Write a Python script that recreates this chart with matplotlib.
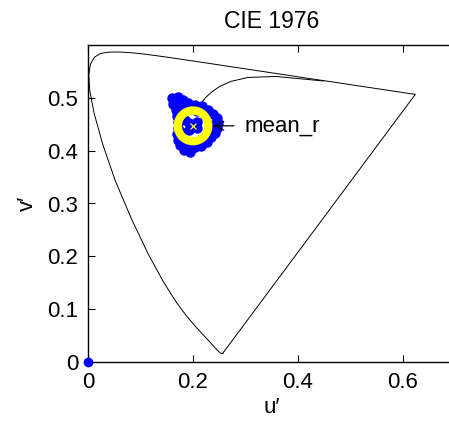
import numpy as np
import matplotlib
matplotlib.use("Agg")
import matplotlib.pyplot as plt
from matplotlib.patches import Circle

plt.rcParams['font.family'] = ['Liberation Sans', 'DejaVu Sans']

# ------------------------------
# data
# ------------------------------
# CIE 1931 2 deg spectral locus (380..700 nm), xy chromaticity
locus_x = [0.1741, 0.1740, 0.1738, 0.1736, 0.1733, 0.1730, 0.1726, 0.1721, 0.1714, 0.1703,
           0.1689, 0.1669, 0.1644, 0.1611, 0.1566, 0.1510, 0.1440, 0.1355, 0.1241, 0.1096,
           0.0913, 0.0687, 0.0454, 0.0235, 0.0082, 0.0039, 0.0139, 0.0389, 0.0743, 0.1142,
           0.1547, 0.1929, 0.2296, 0.2658, 0.3016, 0.3373, 0.3731, 0.4087, 0.4441, 0.4788,
           0.5125, 0.5448, 0.5752, 0.6029, 0.6270, 0.6482, 0.6658, 0.6801, 0.6915, 0.7006,
           0.7079, 0.7140, 0.7190, 0.7230, 0.7260, 0.7283, 0.7300, 0.7311, 0.7320, 0.7327,
           0.7334, 0.7340, 0.7344, 0.7346, 0.7347]
locus_y = [0.0050, 0.0050, 0.0049, 0.0049, 0.0048, 0.0048, 0.0048, 0.0048, 0.0051, 0.0058,
           0.0069, 0.0086, 0.0109, 0.0138, 0.0177, 0.0227, 0.0297, 0.0399, 0.0578, 0.0868,
           0.1327, 0.2007, 0.2950, 0.4127, 0.5384, 0.6548, 0.7502, 0.8120, 0.8338, 0.8262,
           0.8059, 0.7816, 0.7543, 0.7243, 0.6923, 0.6589, 0.6245, 0.5896, 0.5547, 0.5202,
           0.4866, 0.4544, 0.4242, 0.3965, 0.3725, 0.3514, 0.3340, 0.3197, 0.3083, 0.2993,
           0.2920, 0.2859, 0.2809, 0.2770, 0.2740, 0.2717, 0.2700, 0.2689, 0.2680, 0.2673,
           0.2666, 0.2660, 0.2656, 0.2654, 0.2653]

# Planckian locus 4500 K .. 1000 K, xy chromaticity
planck_x = [0.3608, 0.3805, 0.4053, 0.4369, 0.4770, 0.5267, 0.5857, 0.6528]
planck_y = [0.3636, 0.3768, 0.3907, 0.4041, 0.4137, 0.4133, 0.3931, 0.3444]

# measured points (u', v')
meas_u = [0.160, 0.171, 0.181, 0.190, 0.204, 0.217, 0.229, 0.238, 0.246, 0.248,
          0.246, 0.242, 0.234, 0.227, 0.215, 0.204, 0.194, 0.183, 0.175, 0.171,
          0.170, 0.171, 0.171, 0.170, 0.168, 0.162, 0.168, 0.177, 0.186, 0.179,
          0.195, 0.208, 0.222, 0.236, 0.230, 0.213, 0.190, 0.200, 0.192, 0.208,
          0.192, 0.208, 0.184, 0.178, 0.218, 0.224]
meas_v = [0.500, 0.502, 0.496, 0.491, 0.487, 0.485, 0.477, 0.470, 0.462, 0.453,
          0.443, 0.434, 0.426, 0.417, 0.409, 0.406, 0.398, 0.402, 0.411, 0.421,
          0.432, 0.443, 0.455, 0.466, 0.477, 0.488, 0.493, 0.484, 0.480, 0.472,
          0.478, 0.476, 0.466, 0.448, 0.438, 0.420, 0.412, 0.447, 0.452, 0.442,
          0.440, 0.455, 0.458, 0.436, 0.413, 0.428]

mean_r = (0.200, 0.447)
ring_radius = 0.029
origin_pt = (0.0, 0.0)


def xy_to_uv(x, y):
    x = np.asarray(x)
    y = np.asarray(y)
    d = -2 * x + 12 * y + 3
    return 4 * x / d, 9 * y / d


lu, lv = xy_to_uv(locus_x, locus_y)
lu = np.append(lu, lu[0])
lv = np.append(lv, lv[0])
pu, pv = xy_to_uv(planck_x, planck_y)

# ------------------------------
# plot
# ------------------------------
fig = plt.figure(figsize=(4.49, 4.23), dpi=100)
ax = fig.add_axes([88 / 449, 61 / 423, 367.5 / 449, 317 / 423])

ax.plot(lu, lv, color="black", lw=0.7, zorder=2)
ax.plot(pu, pv, color="black", lw=0.7, zorder=2)

ax.plot(meas_u, meas_v, "o", color="blue", ms=6.5, mec="blue", zorder=3)
ax.add_patch(Circle(mean_r, ring_radius, fill=False, ec="yellow", lw=6, zorder=4))
ax.plot(mean_r[0], mean_r[1], "x", color="yellow", ms=5, mew=0.9, zorder=5)
ax.plot(origin_pt[0], origin_pt[1], "o", color="blue", ms=6, clip_on=False, zorder=6)

ax.annotate("mean_r", xy=(mean_r[0] + 0.039, mean_r[1]), xytext=(0.299, mean_r[1]),
            fontsize=16, ha="left", va="center", zorder=6,
            arrowprops=dict(arrowstyle="->", color="black", lw=0.9, shrinkA=6, shrinkB=0))

ax.set_xlim(0, 0.7)
ax.set_ylim(0, 0.6)
ax.set_xticks([0, 0.2, 0.4, 0.6])
ax.set_yticks([0, 0.1, 0.2, 0.3, 0.4, 0.5])
ax.set_xticklabels(["0", "0.2", "0.4", "0.6"])
ax.set_yticklabels(["0", "0.1", "0.2", "0.3", "0.4", "0.5"])
ax.tick_params(direction="in", length=5, width=0.8, labelsize=16, top=True, right=True, pad=7)
for s in ax.spines.values():
    s.set_linewidth(1.0)

ax.set_title("CIE 1976", fontsize=16.5, pad=12)
ax.set_xlabel("u\u2032", fontsize=16, labelpad=3)
ax.set_ylabel("v\u2032", fontsize=16, labelpad=7)

fig.savefig("out.png", dpi=100)
